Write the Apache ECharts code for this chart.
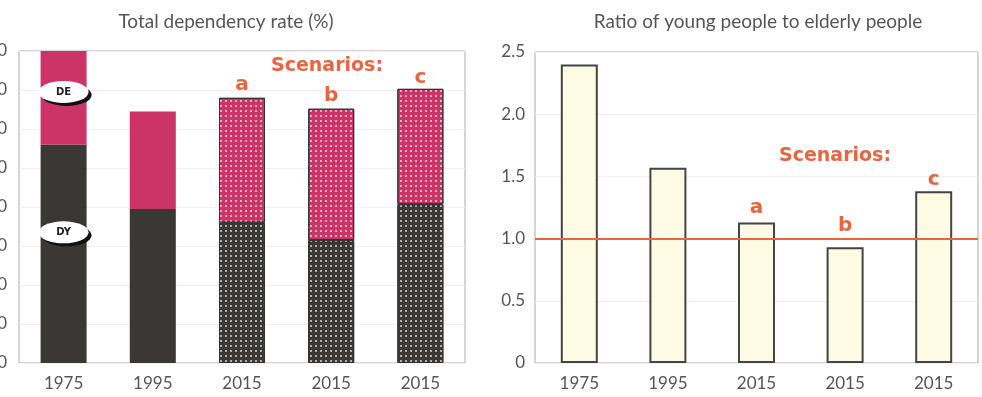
<!DOCTYPE html>
<html>
<head>
<meta charset="utf-8">
<script src="https://cdn.jsdelivr.net/npm/echarts@6/dist/echarts.min.js"></script>
<style>
  html, body { margin: 0; padding: 0; background: #fff; }
  #chart { width: 982px; height: 397px; }
</style>
</head>
<body>
<div id="chart"></div>
<script>
// categories and values
const years = ['1975', '1995', '2015', '2015', '2015'];
const scenarioTags = ['', '', 'a', 'b', 'c'];
// dependency rate (%) split into young (DY) and elderly (DE) parts
const youngDependency = [56, 39.5, 36, 31.5, 40.7];
const elderlyDependency = [24, 25, 32, 33.7, 29.6];
// ratio young / elderly
const youngToElderly = [2.4, 1.57, 1.13, 0.93, 1.38];
const parityLevel = 1.0;

const rateTicks = { min: 0, max: 80, interval: 10 };
const ratioTicks = { min: 0, max: 2.5, interval: 0.5 };

const categoryKeys = years.map((y, i) => y + scenarioTags[i]);

const FONT = 'Lato';
const BOLD_FONT = 'DejaVu Sans';
const ORANGE = '#e8663f';
const PINK = '#cc3366';
const DARK = '#3b3735';

const dots = {
  symbol: 'rect',
  symbolSize: 1,
  dashArrayX: [1.2, 2.1],
  dashArrayY: [1.2, 2.1],
  color: 'rgba(255,255,255,0.6)'
};

const styled = (vals, color) => vals.map((v, i) => {
  if (!scenarioTags[i]) return { value: v, itemStyle: { color } };
  return {
    value: v,
    itemStyle: { color, decal: dots, borderColor: '#333', borderWidth: 1 }
  };
});

const leftLabelDist = [0, 0, 3, 3, 1];
const rightLabelDist = [0, 0, 5, 12, 2];

const withTags = (vals, dists) => vals.map((v, i) => scenarioTags[i]
  ? { value: v, label: { show: true, distance: dists[i] } }
  : v);

const tagLabel = {
  show: false,
  position: 'top',
  formatter: p => scenarioTags[p.dataIndex],
  color: ORANGE,
  fontFamily: BOLD_FONT,
  fontWeight: 'bold',
  fontSize: 20
};

const axisText = { color: '#555', fontFamily: FONT, fontSize: 17 };
const titleText = { color: '#555', fontFamily: FONT, fontSize: 19, fontWeight: 'normal' };

const chart = echarts.init(document.getElementById('chart'), null, { renderer: 'canvas' });

chart.setOption({
  animation: false,
  textStyle: { fontFamily: FONT },
  title: [
    { text: 'Total dependency rate (%)', left: 221, top: 7, textAlign: 'center', textStyle: titleText },
    { text: 'Ratio of young people to elderly people', left: 753, top: 7, textAlign: 'center', textStyle: titleText }
  ],
  graphic: [
    { type: 'text', left: 271, top: 57,
      style: { text: 'Scenarios:', fill: ORANGE, font: 'bold 19px "DejaVu Sans"' } },
    { type: 'text', left: 779, top: 147,
      style: { text: 'Scenarios:', fill: ORANGE, font: 'bold 19px "DejaVu Sans"' } }
  ],
  grid: [
    { left: 19, top: 51, width: 446, height: 312, show: true, outerBoundsMode: 'none',
      borderColor: '#aaa', borderWidth: 1, backgroundColor: '#fff' },
    { left: 535, top: 52, width: 443, height: 311, show: true, outerBoundsMode: 'none',
      borderColor: '#aaa', borderWidth: 1, backgroundColor: '#fff' }
  ],
  xAxis: [0, 1].map(g => ({
    type: 'category',
    gridIndex: g,
    data: categoryKeys,
    axisLine: { show: false },
    axisTick: { show: false },
    axisLabel: Object.assign({ margin: 12, formatter: (v, i) => years[i] }, axisText)
  })),
  yAxis: [
    Object.assign({ type: 'value', gridIndex: 0,
      axisLine: { show: false }, axisTick: { show: false },
      splitLine: { lineStyle: { color: '#f0f0f0' } },
      axisLabel: Object.assign({ margin: 12 }, axisText) }, rateTicks),
    Object.assign({ type: 'value', gridIndex: 1,
      axisLine: { show: false }, axisTick: { show: false },
      splitLine: { lineStyle: { color: '#f0f0f0' } },
      axisLabel: Object.assign({ margin: 10,
        formatter: v => v === 0 ? '0' : v.toFixed(1) }, axisText) }, ratioTicks)
  ],
  series: [
    {
      name: 'DY', type: 'bar', stack: 'rate', xAxisIndex: 0, yAxisIndex: 0,
      barWidth: 46,
      data: styled(youngDependency, DARK)
    },
    {
      name: 'DE', type: 'bar', stack: 'rate', xAxisIndex: 0, yAxisIndex: 0,
      barWidth: 46,
      label: tagLabel,
      data: styled(elderlyDependency, PINK).map((d, i) => scenarioTags[i]
        ? Object.assign(d, { label: { show: true, distance: leftLabelDist[i] } })
        : d)
    },
    {
      name: 'badges', type: 'scatter', xAxisIndex: 0, yAxisIndex: 0, z: 5,
      symbol: 'circle', symbolSize: [50, 22],
      itemStyle: { color: '#fff', opacity: 1, shadowColor: '#111',
        shadowOffsetX: 3, shadowOffsetY: 3, shadowBlur: 0 },
      label: { show: true, position: 'inside', formatter: p => p.name,
        color: '#222', fontFamily: BOLD_FONT, fontWeight: 'bold', fontSize: 10 },
      data: [
        { name: 'DE', value: [0, 69.5] },
        { name: 'DY', value: [0, 33.5] }
      ]
    },
    {
      name: 'ratio', type: 'bar', xAxisIndex: 1, yAxisIndex: 1,
      barWidth: 37,
      itemStyle: { color: '#fdfbe4', borderColor: '#444', borderWidth: 2 },
      label: tagLabel,
      data: withTags(youngToElderly, rightLabelDist),
      markLine: {
        silent: true, symbol: 'none', label: { show: false },
        lineStyle: { color: ORANGE, width: 2, type: 'solid' },
        data: [{ yAxis: parityLevel }]
      }
    }
  ]
});
</script>
</body>
</html>
